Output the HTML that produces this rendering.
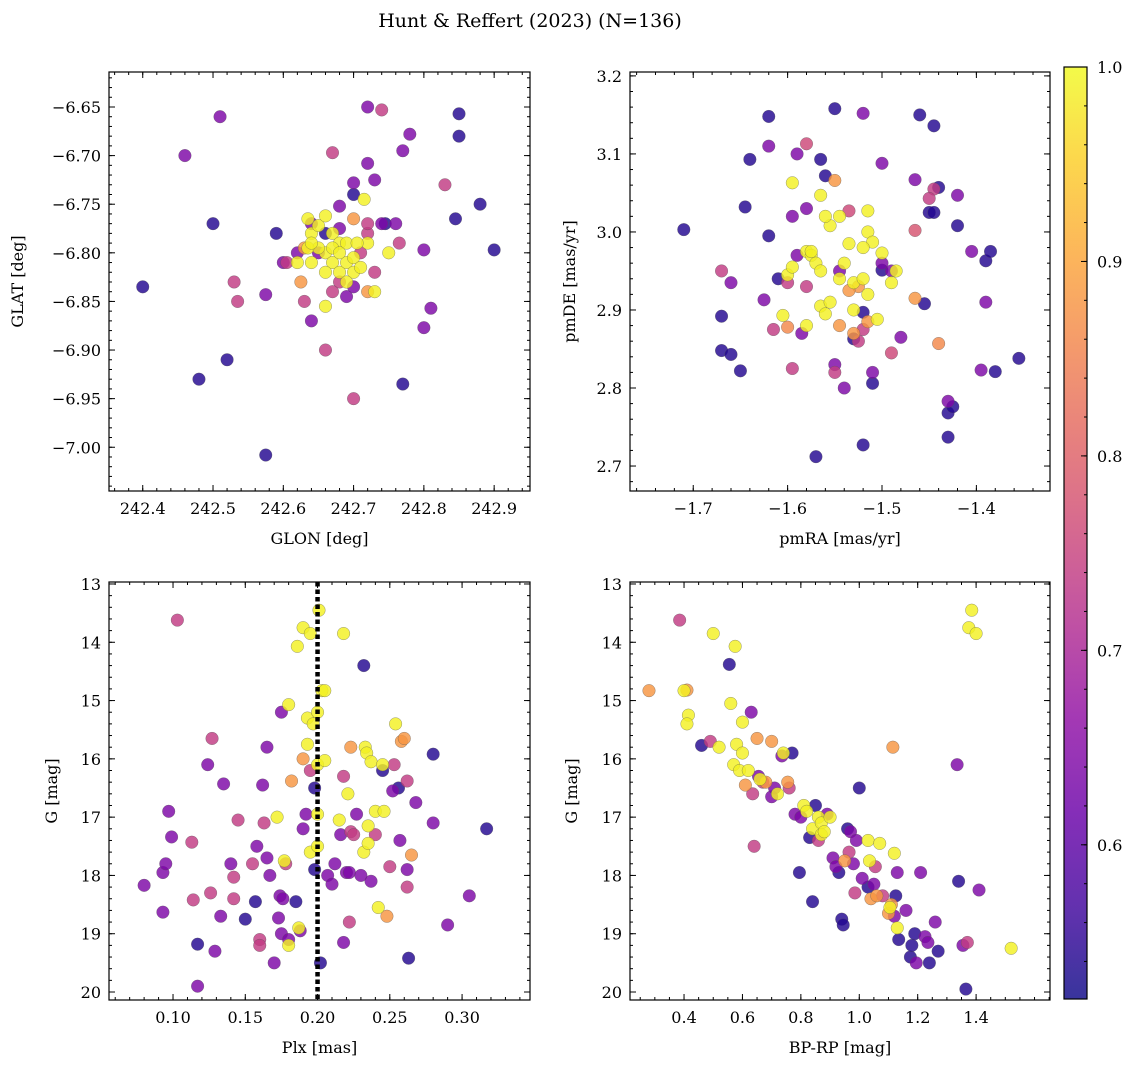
<!DOCTYPE html>
<html><head><meta charset="utf-8">
<style>
html,body{margin:0;padding:0;background:#fff;}
svg{display:block;font-family:"DejaVu Serif","Liberation Serif",serif;}
</style></head>
<body>
<svg id="fig" width="1136" height="1067" viewBox="0 0 1136 1067" xmlns="http://www.w3.org/2000/svg">
<text x="530" y="27" text-anchor="middle" font-size="19">Hunt &amp; Reffert (2023) (N=136)</text>
</svg>
<script>
// ---- Panel 1: GLON / GLAT ----
const p1x=[242.40,242.46,242.50,242.51,242.52,242.53,242.535,242.48,242.575,242.575,242.59,242.605,242.63,242.625,242.64,242.66,242.66,242.67,242.70,242.72,242.74,242.77,242.78,242.85,242.85,242.88,242.90,242.845,242.83,242.80,242.81,242.80,242.77,242.73,242.72,242.73,242.69,242.70,242.70,242.72,242.73,242.745,242.76,242.765,242.75,242.68,242.70,242.715,
242.635,242.64,242.65,242.66,242.67,242.68,242.69,242.66,242.67,242.68,242.69,242.70,242.64,242.65,242.635,242.70,242.71,242.72,242.66,242.62,242.67,242.68,242.69,242.64,242.705,
242.64,242.65,242.66,242.68,242.68,242.70,242.71,242.72,242.62,242.60,242.74,242.67,242.63,242.72];
const p1y=[-6.835,-6.70,-6.77,-6.66,-6.91,-6.83,-6.85,-6.93,-7.008,-6.843,-6.78,-6.81,-6.85,-6.83,-6.87,-6.90,-6.855,-6.697,-6.95,-6.65,-6.653,-6.695,-6.678,-6.657,-6.68,-6.75,-6.797,-6.765,-6.73,-6.797,-6.857,-6.877,-6.935,-6.84,-6.84,-6.82,-6.845,-6.74,-6.728,-6.708,-6.725,-6.77,-6.77,-6.79,-6.80,-6.752,-6.765,-6.745,
-6.765,-6.78,-6.772,-6.762,-6.78,-6.79,-6.79,-6.80,-6.81,-6.82,-6.81,-6.805,-6.81,-6.795,-6.795,-6.82,-6.815,-6.79,-6.82,-6.81,-6.795,-6.80,-6.83,-6.79,-6.79,
-6.77,-6.80,-6.78,-6.775,-6.83,-6.835,-6.80,-6.78,-6.80,-6.81,-6.77,-6.84,-6.795,-6.77];
const p1p=[0.54,0.64,0.54,0.64,0.54,0.74,0.74,0.54,0.54,0.64,0.54,0.74,0.74,0.88,0.64,0.74,0.99,0.74,0.74,0.64,0.74,0.64,0.64,0.54,0.54,0.54,0.54,0.54,0.74,0.64,0.64,0.64,0.54,0.99,0.88,0.74,0.64,0.54,0.64,0.64,0.64,0.54,0.64,0.74,0.99,0.64,0.88,0.99,
0.99,0.99,0.99,0.99,0.99,0.99,0.99,0.99,0.99,0.99,0.99,0.99,0.99,0.99,0.99,0.99,0.99,0.99,0.99,0.99,0.99,0.99,0.99,0.99,0.99,
0.64,0.64,0.54,0.64,0.74,0.64,0.74,0.74,0.64,0.64,0.64,0.74,0.88,0.74];

// ---- Panel 2: pmRA / pmDE ----
const p2x=[-1.71,-1.67,-1.67,-1.66,-1.65,-1.645,-1.64,-1.62,-1.62,-1.61,-1.57,-1.55,-1.52,-1.51,-1.46,-1.445,-1.45,-1.445,-1.44,-1.42,-1.39,-1.385,-1.355,-1.38,-1.43,-1.43,-1.425,-1.455,-1.56,-1.565,-1.52,-1.53,-1.5,
-1.62,-1.625,-1.66,-1.595,-1.59,-1.52,-1.50,-1.465,-1.42,-1.405,-1.39,-1.395,-1.43,-1.54,-1.51,-1.55,-1.585,-1.59,-1.58,-1.545,-1.50,-1.48,-1.49,
-1.67,-1.58,-1.615,-1.595,-1.55,-1.535,-1.525,-1.52,-1.445,-1.45,-1.49,-1.465,-1.6,-1.58,
-1.55,-1.525,-1.535,-1.465,-1.44,-1.6,-1.53,-1.515,-1.545,
-1.595,-1.565,-1.555,-1.56,-1.545,-1.515,-1.515,-1.51,-1.5,-1.58,-1.575,-1.57,-1.565,-1.54,-1.535,-1.52,-1.53,-1.52,-1.515,-1.6,-1.595,-1.605,-1.58,-1.565,-1.555,-1.53,-1.49,-1.505,-1.485,-1.56,-1.575,-1.545];
const p2y=[3.003,2.892,2.848,2.843,2.822,3.032,3.093,3.148,2.995,2.94,2.712,3.158,2.727,2.806,3.15,3.136,3.025,3.025,3.057,3.008,2.963,2.975,2.838,2.821,2.737,2.768,2.776,2.908,3.072,3.093,2.897,2.863,2.951,
3.11,2.913,2.935,3.02,3.10,3.152,3.088,3.067,3.047,2.975,2.91,2.823,2.783,2.80,2.82,2.83,2.87,2.97,3.03,2.95,2.96,2.865,2.95,
2.95,3.113,2.875,2.825,2.82,3.027,2.86,2.875,3.055,3.043,2.845,3.002,2.935,2.93,
3.066,2.93,2.925,2.915,2.857,2.878,2.87,2.885,2.88,
3.063,3.047,3.008,3.02,3.02,3.027,3.0,2.987,2.973,2.975,2.97,2.96,2.95,2.96,2.985,2.98,2.935,2.94,2.92,2.945,2.955,2.893,2.88,2.905,2.91,2.9,2.935,2.888,2.95,2.895,2.975,2.94];
const p2p=[0.54,0.54,0.54,0.54,0.54,0.54,0.54,0.54,0.54,0.54,0.54,0.54,0.54,0.54,0.54,0.54,0.54,0.54,0.54,0.54,0.54,0.54,0.54,0.54,0.54,0.54,0.54,0.54,0.54,0.54,0.54,0.54,0.54,
0.64,0.64,0.64,0.64,0.64,0.64,0.64,0.64,0.64,0.64,0.64,0.64,0.64,0.64,0.64,0.64,0.64,0.64,0.64,0.64,0.64,0.64,0.64,
0.74,0.76,0.74,0.74,0.74,0.76,0.74,0.74,0.74,0.74,0.76,0.78,0.74,0.74,
0.88,0.88,0.88,0.88,0.86,0.86,0.88,0.88,0.88,
0.99,0.99,0.99,0.99,0.99,0.99,0.99,0.99,0.99,0.99,0.99,0.99,0.99,0.99,0.99,0.99,0.99,0.99,0.99,0.99,0.99,0.99,0.99,0.99,0.99,0.99,0.99,0.99,0.99,0.99,0.99,0.99];

// ---- Panel 3: Plx / G ----
const p3x=[0.103,0.08,0.093,0.093,0.095,0.097,0.099,0.113,0.114,0.117,0.117,0.124,0.126,0.127,0.129,0.133,0.135,0.14,0.142,0.142,0.145,0.15,0.155,0.157,0.158,0.16,0.16,0.162,0.163,0.165,0.165,0.167,0.17,0.172,0.173,0.174,0.175,0.175,0.176,0.177,0.178,0.18,0.18,0.18,0.182,0.185,0.186,0.187,0.188,0.19,0.19,0.19,0.192,0.193,0.193,0.195,0.195,0.195,0.197,0.198,0.198,0.2,0.2,0.2,0.2,0.201,0.202,0.203,0.205,0.205,0.207,0.21,0.212,0.215,0.216,0.218,0.218,0.218,0.22,0.221,0.222,0.222,0.223,0.223,0.225,0.227,0.23,0.232,0.232,0.233,0.234,0.235,0.235,0.237,0.237,0.24,0.24,0.242,0.245,0.245,0.246,0.248,0.25,0.252,0.253,0.254,0.256,0.257,0.258,0.26,0.262,0.262,0.262,0.263,0.265,0.268,0.28,0.28,0.29,0.305,0.317];
const p3y=[13.62,18.17,17.95,18.63,17.8,16.9,17.34,17.43,18.42,19.18,19.9,16.1,18.3,15.65,19.3,18.7,16.43,17.8,18.4,18.03,17.05,18.75,17.8,18.45,17.5,19.1,19.2,16.45,17.1,15.8,17.7,18.0,19.5,17.0,18.73,18.35,15.2,19.0,18.4,17.75,17.8,19.1,19.2,15.07,16.38,18.45,14.07,18.9,18.95,13.75,17.2,16.0,16.95,15.3,15.75,13.85,16.2,17.6,15.4,17.9,16.5,15.2,16.95,17.5,16.1,13.45,19.5,14.83,16.03,14.83,18.0,18.15,17.8,17.05,17.3,13.85,16.3,19.15,17.95,16.6,17.95,18.8,15.8,17.25,17.3,16.95,18.0,14.4,17.6,15.8,15.9,17.15,17.45,16.05,18.1,17.3,16.9,18.55,16.2,16.1,16.9,18.7,17.85,16.55,16.1,15.4,16.5,17.4,15.7,15.65,18.2,17.9,16.38,19.42,17.65,16.75,15.92,17.1,18.85,18.35,17.2];
const p3p=[0.74,0.64,0.64,0.64,0.64,0.64,0.64,0.74,0.74,0.54,0.64,0.64,0.74,0.74,0.64,0.64,0.64,0.64,0.74,0.74,0.74,0.54,0.74,0.54,0.64,0.74,0.74,0.64,0.74,0.64,0.64,0.64,0.64,0.99,0.64,0.64,0.64,0.64,0.64,0.99,0.74,0.64,0.99,0.99,0.88,0.54,0.99,0.99,0.64,0.99,0.64,0.88,0.64,0.99,0.99,0.99,0.74,0.99,0.99,0.54,0.54,0.99,0.99,0.99,0.99,0.99,0.54,0.99,0.99,0.99,0.64,0.64,0.64,0.99,0.64,0.99,0.74,0.64,0.64,0.99,0.64,0.74,0.88,0.74,0.74,0.64,0.64,0.54,0.99,0.99,0.99,0.99,0.99,0.99,0.64,0.74,0.99,0.99,0.54,0.99,0.99,0.88,0.74,0.64,0.74,0.99,0.54,0.64,0.88,0.88,0.74,0.64,0.74,0.54,0.88,0.64,0.54,0.64,0.64,0.64,0.54];

// ---- Panel 4: BP-RP / G ----
const p4x=[0.28,0.385,0.40,0.415,0.41,0.41,0.46,0.49,0.5,0.52,0.555,0.56,0.57,0.575,0.58,0.59,0.6,0.6,0.61,0.62,0.63,0.635,0.64,0.65,0.655,0.66,0.67,0.68,0.7,0.7,0.71,0.72,0.735,0.74,0.755,0.76,0.77,0.78,0.8,0.795,0.81,0.82,0.83,0.84,0.84,0.85,0.86,0.86,0.87,0.87,0.88,0.89,0.9,0.91,0.92,0.93,0.94,0.945,0.95,0.96,0.965,0.97,0.98,0.985,0.99,1.0,1.01,1.03,1.03,1.035,1.04,1.05,1.055,1.06,1.07,1.08,1.1,1.105,1.11,1.115,1.12,1.12,1.125,1.13,1.13,1.135,1.16,1.175,1.18,1.19,1.195,1.21,1.225,1.235,1.24,1.26,1.27,1.335,1.34,1.355,1.365,1.37,1.375,1.385,1.4,1.41,1.52];
const p4y=[14.83,13.62,14.83,15.25,15.4,14.82,15.77,15.7,13.85,15.8,14.38,15.05,16.1,14.07,15.75,16.2,15.37,15.9,16.45,16.2,15.2,16.6,17.5,15.65,16.3,16.35,16.4,16.4,15.7,16.65,16.5,16.6,15.95,15.9,16.4,16.5,15.9,16.95,17.0,17.95,16.8,16.9,17.35,18.45,17.2,16.8,17.0,17.4,17.1,17.3,17.25,16.95,17.0,17.7,17.85,17.95,18.75,18.85,17.75,17.2,17.6,17.25,17.8,18.3,17.4,16.5,18.05,17.4,18.2,17.75,18.4,18.15,17.85,18.35,17.45,18.35,18.65,18.55,18.5,15.8,18.7,17.62,18.35,18.9,17.95,19.1,18.6,19.4,19.2,19.0,19.5,17.95,19.05,19.15,19.5,18.8,19.3,16.1,18.1,19.2,19.95,19.15,13.75,13.45,13.85,18.25,19.25];
const p4p=[0.88,0.74,0.99,0.99,0.99,0.88,0.54,0.74,0.99,0.99,0.54,0.99,0.99,0.99,0.99,0.99,0.99,0.99,0.88,0.99,0.64,0.74,0.74,0.88,0.64,0.99,0.74,0.88,0.88,0.64,0.64,0.99,0.64,0.99,0.88,0.74,0.54,0.64,0.64,0.54,0.99,0.99,0.54,0.54,0.99,0.54,0.99,0.74,0.99,0.99,0.99,0.64,0.99,0.64,0.64,0.54,0.54,0.54,0.88,0.54,0.74,0.64,0.64,0.74,0.64,0.54,0.64,0.99,0.54,0.99,0.88,0.64,0.74,0.88,0.99,0.74,0.88,0.99,0.88,0.88,0.64,0.99,0.54,0.99,0.64,0.54,0.64,0.54,0.54,0.54,0.64,0.64,0.64,0.64,0.54,0.64,0.54,0.64,0.54,0.64,0.54,0.74,0.99,0.99,0.99,0.64,0.99];

// ---- Axis tick labels ----
const p1xTicks=[242.4,242.5,242.6,242.7,242.8,242.9];
const p1yTicks=[-6.65,-6.70,-6.75,-6.80,-6.85,-6.90,-6.95,-7.00];
const p2xTicks=[-1.7,-1.6,-1.5,-1.4];
const p2yTicks=[2.7,2.8,2.9,3.0,3.1,3.2];
const p3xTicks=[0.10,0.15,0.20,0.25,0.30];
const gTicks=[13,14,15,16,17,18,19,20];
const p4xTicks=[0.4,0.6,0.8,1.0,1.2,1.4];
const cbTicks=[0.6,0.7,0.8,0.9,1.0];
const plxCut=[0.20];

const NS='http://www.w3.org/2000/svg';
const svg=document.getElementById('fig');
function mk(tag,attrs,parent){const e=document.createElementNS(NS,tag);for(const k in attrs)e.setAttribute(k,attrs[k]);(parent||svg).appendChild(e);return e;}

const stops=['#0d0887','#41049d','#6a00a8','#8f0da4','#b12a90','#cc4778','#e16462','#f2844b','#fca636','#fcce25','#f0f921'];
function hex(h){return [parseInt(h.slice(1,3),16),parseInt(h.slice(3,5),16),parseInt(h.slice(5,7),16)];}
const VMIN=0.5207,VMAX=1.0;
function plasma(t){t=Math.max(0,Math.min(1,t));const f=t*10,i=Math.min(9,Math.floor(f)),u=f-i;const a=hex(stops[i]),b=hex(stops[i+1]);return 'rgb('+a.map((v,k)=>Math.round(v+(b[k]-v)*u)).join(',')+')';}
function cmap(p){return plasma((p-VMIN)/(VMAX-VMIN));}

function fmt(v,d){const s=v.toFixed(d);return s.replace('-','\u2212');}

function panel(o){
  const {name,L,T,R,B,x0,x1,y0,y1,xs,ys,ps,xt,yt,xd,yd,xminor,yminor,xlab,ylab}=o;
  const g=mk('g',{});
  
  
  const X=v=>L+(v-x0)/(x1-x0)*(R-L);
  const Y=v=>T+(v-y0)/(y1-y0)*(B-T);
  const cid='clip-'+name;
  const cp=mk('clipPath',{id:cid},g);mk('rect',{x:L,y:T,width:R-L,height:B-T},cp);
  const pts=mk('g',{'clip-path':'url(#'+cid+')'},g);
  const idx=ps.map((p,i)=>i).sort((a,b)=>ps[a]-ps[b]);
  idx.forEach(i=>{
    const c=mk('circle',{cx:X(xs[i]),cy:Y(ys[i]),r:6.3,fill:cmap(ps[i]),'fill-opacity':0.82,stroke:'#555','stroke-width':0.5,'stroke-opacity':0.6},pts);
    
    
  });
  if(o.vline){o.vline.forEach(v=>{const l=mk('line',{x1:X(v),x2:X(v),y1:T,y2:B,stroke:'#000','stroke-width':4.5,'stroke-dasharray':'4.5,3'},g);
    
    });}
  const tk=mk('g',{stroke:'#000','stroke-width':1},g);
  const lo=Math.min(x0,x1),hi=Math.max(x0,x1);
  for(let v=Math.ceil(lo/xminor-1e-6)*xminor;v<=hi+1e-9;v+=xminor){const x=X(v);mk('line',{x1:x,x2:x,y1:B,y2:B-3},tk);mk('line',{x1:x,x2:x,y1:T,y2:T+3},tk);}
  const ylo=Math.min(y0,y1),yhi=Math.max(y0,y1);
  for(let v=Math.ceil(ylo/yminor-1e-6)*yminor;v<=yhi+1e-9;v+=yminor){const y=Y(v);mk('line',{x1:L,x2:L+3,y1:y,y2:y},tk);mk('line',{x1:R,x2:R-3,y1:y,y2:y},tk);}
  xt.forEach(v=>{const x=X(v);mk('line',{x1:x,x2:x,y1:B,y2:B-6},tk);mk('line',{x1:x,x2:x,y1:T,y2:T+6},tk);
    const t=mk('text',{x:x,y:B+23,'text-anchor':'middle','font-size':16},g);t.textContent=fmt(v,xd);
    });
  yt.forEach(v=>{const y=Y(v);mk('line',{x1:L,x2:L+6,y1:y,y2:y},tk);mk('line',{x1:R,x2:R-6,y1:y,y2:y},tk);
    const t=mk('text',{x:L-8,y:y+6,'text-anchor':'end','font-size':16},g);t.textContent=fmt(v,yd);
    });
  const fr=mk('rect',{x:L,y:T,width:R-L,height:B-T,fill:'none',stroke:'#000','stroke-width':1.2},g);
  
  const xl=mk('text',{x:(L+R)/2,y:B+53,'text-anchor':'middle','font-size':16},g);xl.textContent=xlab;
  
  const yx=o.ylx;
  const yl=mk('text',{x:yx,y:(T+B)/2,'text-anchor':'middle','font-size':16,transform:'rotate(-90 '+yx+' '+(T+B)/2+')'},g);yl.textContent=ylab;
  
}

panel({name:'position-panel',L:109,T:72,R:530,B:491,x0:242.352,x1:242.951,y0:-6.614,y1:-7.045,xs:p1x,ys:p1y,ps:p1p,xt:p1xTicks,yt:p1yTicks,xd:1,yd:2,xminor:0.02,yminor:0.01,xlab:'GLON [deg]',ylab:'GLAT [deg]',ylx:23});
panel({name:'proper-motion-panel',L:630,T:72,R:1050,B:491,x0:-1.767,x1:-1.322,y0:3.205,y1:2.668,xs:p2x,ys:p2y,ps:p2p,xt:p2xTicks,yt:p2yTicks,xd:1,yd:1,xminor:0.02,yminor:0.02,xlab:'pmRA [mas/yr]',ylab:'pmDE [mas/yr]',ylx:575});
panel({name:'parallax-panel',L:109,T:582,R:530,B:1000,x0:0.0557,x1:0.347,y0:12.966,y1:20.137,xs:p3x,ys:p3y,ps:p3p,xt:p3xTicks,yt:gTicks,xd:2,yd:0,xminor:0.01,yminor:0.2,xlab:'Plx [mas]',ylab:'G [mag]',ylx:57,vline:plxCut});
panel({name:'cmd-panel',L:630,T:582,R:1050,B:1000,x0:0.215,x1:1.653,y0:12.966,y1:20.137,xs:p4x,ys:p4y,ps:p4p,xt:p4xTicks,yt:gTicks,xd:1,yd:0,xminor:0.05,yminor:0.2,xlab:'BP-RP [mag]',ylab:'G [mag]',ylx:577});

(function(){
  const L=1064,R=1087,T=67,B=999;
  const g=mk('g',{});
  
  
  const defs=mk('defs',{},g);
  const lg=mk('linearGradient',{id:'cbg',x1:0,y1:1,x2:0,y2:0},defs);
  for(let i=0;i<=20;i++){mk('stop',{offset:i/20,'stop-color':plasma(i/20)},lg);}
  mk('rect',{x:L,y:T,width:R-L,height:B-T,fill:'url(#cbg)','fill-opacity':0.82},g);
  mk('rect',{x:L,y:T,width:R-L,height:B-T,fill:'none',stroke:'#000','stroke-width':1.2},g);
  const Y=v=>B-(v-VMIN)/(VMAX-VMIN)*(B-T);
  for(let v=0.54;v<=1.0001;v+=0.02){mk('line',{x1:R,x2:R-3,y1:Y(v),y2:Y(v),stroke:'#000'},g);}
  cbTicks.forEach(v=>{const y=Y(v);mk('line',{x1:R,x2:R-6,y1:y,y2:y,stroke:'#000'},g);
    const t=mk('text',{x:R+10,y:y+6,'font-size':16},g);t.textContent=v.toFixed(1);
    });
})();
</script>
</body></html>
